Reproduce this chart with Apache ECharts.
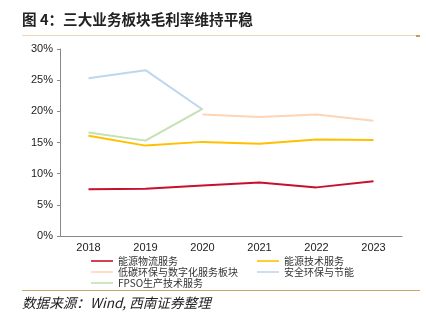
<!DOCTYPE html>
<html>
<head>
<meta charset="utf-8">
<script src="https://cdn.jsdelivr.net/npm/echarts@6/dist/echarts.min.js"></script>
<style>
html,body{margin:0;padding:0;background:#fff;}
#chart{width:426px;height:325px;}
</style>
</head>
<body>
<div id="chart"></div>
<script>
// 年份与各业务板块毛利率（%）
const years = ['2018', '2019', '2020', '2021', '2022', '2023'];
const energyLogistics = [7.5, 7.6, 8.1, 8.6, 7.8, 8.8];
const energyTech = [16.1, 14.5, 15.1, 14.8, 15.5, 15.4];
const lowCarbonDigital = [null, null, 19.5, 19.1, 19.5, 18.5];
const safetyEnv = [25.3, 26.6, 20.3, null, null, null];
const fpsoProduction = [16.6, 15.3, 20.4, null, null, null];

const seriesNames = ['能源物流服务', '能源技术服务', '低碳环保与数字化服务板块', '安全环保与节能', 'FPSO生产技术服务'];
const seriesData = [energyLogistics, energyTech, lowCarbonDigital, safetyEnv, fpsoProduction];
const seriesColors = ['#c8102e', '#ffc000', '#fbd5b8', '#bdd7ee', '#c5e0b4'];

const chart = echarts.init(document.getElementById('chart'), null, {renderer: 'canvas'});

const legendText = {fontSize: 10, color: '#333', fontFamily: '"Noto Sans CJK SC", sans-serif', padding: [0, 0, 0, 0]};

chart.setOption({
  animation: false,
  backgroundColor: '#fff',
  grid: {left: 60, right: 24, top: 49, bottom: 89},
  xAxis: {
    type: 'category',
    data: years,
    boundaryGap: true,
    axisLine: {lineStyle: {color: '#888', width: 1}},
    axisTick: {inside: true, length: 3, lineStyle: {color: '#888'}},
    axisLabel: {color: '#222', fontSize: 11, fontFamily: 'Liberation Sans, Arial, sans-serif', margin: 6}
  },
  yAxis: {
    type: 'value',
    min: 0, max: 30, interval: 5,
    axisLine: {show: true, lineStyle: {color: '#888', width: 1}},
    axisTick: {show: true, length: 3, lineStyle: {color: '#888'}},
    splitLine: {show: false},
    axisLabel: {color: '#222', fontSize: 11, fontFamily: 'Liberation Sans, Arial, sans-serif', margin: 7,
      formatter: v => v + '%'}
  },
  legend: [
    {
      orient: 'vertical', left: 86, top: 251, itemGap: 1,
      itemWidth: 22, itemHeight: 10, icon: 'path://M0,4.2H22V5.8H0Z',
      textStyle: legendText,
      data: [seriesNames[0], seriesNames[2], seriesNames[4]]
    },
    {
      orient: 'vertical', left: 252, top: 251, itemGap: 1,
      itemWidth: 22, itemHeight: 10, icon: 'path://M0,4.2H22V5.8H0Z',
      textStyle: legendText,
      data: [seriesNames[1], seriesNames[3]]
    }
  ],
  series: seriesNames.map((name, i) => ({
    name: name,
    type: 'line',
    data: seriesData[i],
    symbol: 'none',
    connectNulls: false,
    itemStyle: {color: seriesColors[i]},
    lineStyle: {color: seriesColors[i], width: 2}
  })),
  graphic: [
    {
      type: 'text', left: 22, top: 12,
      style: {text: '图 4：三大业务板块毛利率维持平稳', fontSize: 14.6, fontWeight: 'bold',
        fill: '#222', fontFamily: '"Noto Sans CJK SC", sans-serif'}
    },
    {
      type: 'line', shape: {x1: 22, y1: 35.5, x2: 420, y2: 35.5},
      style: {stroke: '#f2d6ad', lineWidth: 1}
    },
    {
      type: 'rect', shape: {x: 416, y: 35, width: 4, height: 2},
      style: {fill: '#c89a5c'}
    },
    {
      type: 'line', shape: {x1: 22, y1: 290.5, x2: 420, y2: 290.5},
      style: {stroke: '#c9a26c', lineWidth: 1.2}
    },
    {
      type: 'text', left: 22, top: 296,
      style: {text: '数据来源：Wind, 西南证券整理', fontSize: 13.6, fontStyle: 'italic',
        fill: '#222', fontFamily: '"Noto Sans CJK SC", sans-serif'}
    }
  ]
});
</script>
</body>
</html>
